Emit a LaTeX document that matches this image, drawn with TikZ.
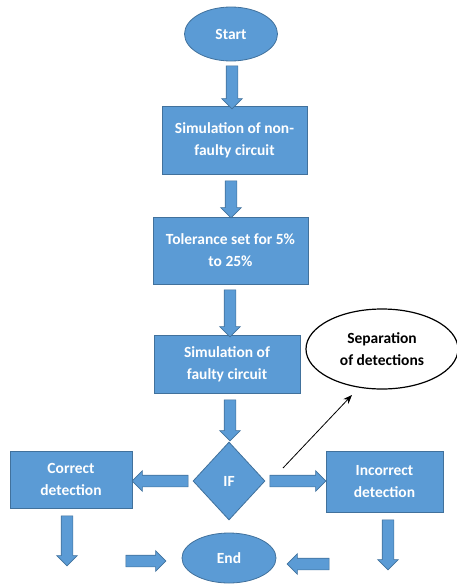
\documentclass[tikz,border=0pt]{standalone}
\usepackage{fontspec}
\setmainfont{Carlito}
\usetikzlibrary{shapes.geometric,shapes.arrows,arrows.meta}
\definecolor{boxfill}{HTML}{5B9BD5}
\definecolor{boxline}{HTML}{41719C}
\tikzset{
  txt/.style={font=\bfseries\fontsize{15.5}{22}\selectfont, align=center},
  flowbox/.style={rectangle, draw=boxline, fill=boxfill, text=white, txt, inner sep=0pt, line width=0.8pt},
  flowoval/.style={ellipse, draw=boxline, fill=boxfill, text=white, txt, inner sep=0pt, line width=0.8pt},
  flowdiam/.style={diamond, draw=boxline, fill=boxfill, text=white, txt, inner sep=0pt, line width=0.8pt},
  noteoval/.style={ellipse, draw=black, fill=white, text=black, txt, inner sep=0pt, line width=1.2pt},
  barrow/.style={single arrow, draw=boxline, fill=boxfill, line width=0.6pt, inner sep=0pt,
     text height=11pt, text depth=0pt, text width=0pt,
     minimum width=20pt, single arrow head extend=4.5pt, single arrow head indent=0pt},
  thinarrow/.style={draw=black, line width=0.8pt, -{Stealth[length=9pt,width=7pt]}}
}
\begin{document}
\begin{tikzpicture}[x=1pt,y=-1pt]
\useasboundingbox (0,0) rectangle (456,584);
% main nodes
\node[flowoval, minimum width=93pt, minimum height=54pt] (start) at (231,34) {Start};
\node[flowbox, minimum width=145pt, minimum height=68pt] (sim1) at (234.5,140) {Simulation of non-\\faulty circuit};
\node[flowbox, minimum width=155pt, minimum height=67pt] (tol) at (230.5,250.5) {Tolerance set for 5\%\\to 25\%};
\node[flowbox, minimum width=146pt, minimum height=58pt] (sim2) at (227,364) {Simulation of\\faulty circuit};
\node[flowdiam, minimum width=72pt, minimum height=78pt] (if) at (229,481) {IF};
\node[flowbox, minimum width=122pt, minimum height=57pt] (corr) at (71,479.5) {Correct\\detection};
\node[flowbox, minimum width=117pt, minimum height=61pt] (inc) at (384.5,481.5) {Incorrect\\detection};
\node[flowoval, minimum width=94pt, minimum height=50pt] (end) at (229,558) {End};
\node[noteoval, minimum width=152pt, minimum height=80pt] (sep) at (382,349) {Separation\\of detections};
% block arrows
\node[barrow, rotate=-90, minimum height=43pt] (a1) at (232,84.5) {};
\node[barrow, rotate=-90, minimum height=37pt] (a2) at (231,196.5) {};
\node[barrow, rotate=-90, minimum height=47pt] (a3) at (230,310.5) {};
\node[barrow, rotate=-90, minimum height=41pt] (a4) at (230,417.5) {};
\node[barrow, rotate=180, minimum height=56pt] (a5) at (163,481) {};
\node[barrow, minimum height=56pt] (a6) at (295,481) {};
\node[barrow, rotate=-90, minimum height=50pt] (a7) at (67,538) {};
\node[barrow, minimum height=40pt] (a8) at (143,561) {};
\node[barrow, rotate=180, minimum height=42pt] (a9) at (311,564) {};
\node[barrow, rotate=-90, minimum height=50pt] (a10) at (388,542) {};
% thin arrow
\coordinate (t1) at (283,468);
\coordinate (t2) at (352,395);
\draw[thinarrow] (t1) -- (t2);
\end{tikzpicture}
\end{document}
